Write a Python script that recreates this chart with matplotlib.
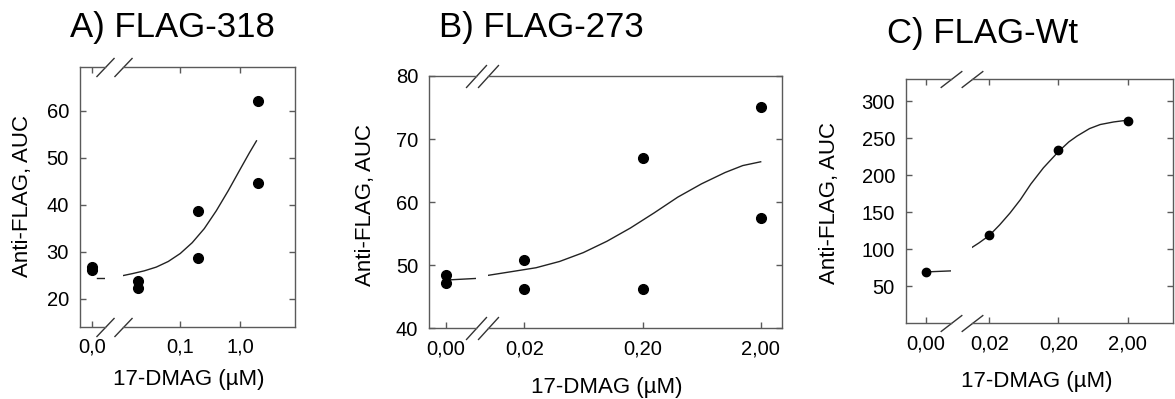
import matplotlib
matplotlib.use('Agg')
import matplotlib.pyplot as plt
from matplotlib.ticker import NullLocator

plt.rcParams['font.family'] = ['Liberation Sans', 'DejaVu Sans']

W, H = 1175, 399

# ---- values ----
titles = ['A) FLAG-318', 'B) FLAG-273', 'C) FLAG-Wt']
xlabel = '17-DMAG (µM)'
ylabel = 'Anti-FLAG, AUC'

# A) FLAG-318
conc_A = [0, 0, 0.02, 0.02, 0.2, 0.2, 2, 2]
auc_A = [26.8, 26.0, 23.8, 22.3, 38.7, 28.7, 62.0, 44.7]
fit_A_x = [0.0112, 0.0158, 0.0251, 0.0398, 0.0631, 0.1, 0.158, 0.251,
           0.398, 0.631, 1.0, 1.41, 1.86]
fit_A_y = [24.9, 25.3, 25.9, 26.7, 27.9, 29.6, 31.9, 34.9,
           38.7, 43.0, 47.6, 51.0, 53.6]
fit0_A_y = [24.3, 24.3]
yticks_A = [20, 30, 40, 50, 60]
xticks_A = [0.1, 1.0]
xticklabels_A = ['0,1', '1,0']
zerolabel_A = '0,0'

# B) FLAG-273
conc_B = [0, 0, 0.02, 0.02, 0.2, 0.2, 2, 2]
auc_B = [48.5, 47.2, 50.9, 46.3, 67.0, 46.3, 75.1, 57.5]
fit_B_x = [0.0099, 0.0158, 0.0251, 0.0398, 0.0631, 0.1, 0.158, 0.251,
           0.398, 0.631, 1.0, 1.41, 2.0]
fit_B_y = [48.4, 49.0, 49.6, 50.6, 52.0, 53.8, 55.9, 58.3,
           60.8, 62.9, 64.7, 65.8, 66.4]
fit0_B_y = [47.65, 47.9]
yticks_B = [40, 50, 60, 70, 80]
xticks_B = [0.02, 0.2, 2.0]
xticklabels_B = ['0,02', '0,20', '2,00']
zerolabel_B = '0,00'

# C) FLAG-Wt
conc_C = [0, 0.02, 0.2, 2]
auc_C = [69.4, 118.7, 234.0, 273.0]
fit_C_x = [0.0105, 0.0141, 0.02, 0.0282, 0.0398, 0.0562, 0.0696, 0.0794,
           0.121, 0.2, 0.282, 0.372, 0.562, 0.803, 1.26, 2.0]
fit_C_y = [100.8, 108.5, 118.7, 133.0, 149.0, 167.0, 180.0, 188.0,
           210.0, 232.0, 245.0, 253.0, 263.0, 268.5, 272.0, 274.4]
fit0_C_y = [69.4, 70.8]
yticks_C = [50, 100, 150, 200, 250, 300]
xticks_C = [0.02, 0.2, 2.0]
xticklabels_C = ['0,02', '0,20', '2,00']
zerolabel_C = '0,00'

SPINE = '#5a5a5a'


def rect(l, r, t, b):
    return [l / W, 1 - b / H, (r - l) / W, (b - t) / H]


def draw_panel(fig, lay, conc, auc, fit_x, fit_y, fit0_y, yticks, xticks,
               xticklabels, zerolabel, title, ms):
    l0, r0 = lay['left']
    l1, r1 = lay['right']
    t, b = lay['top'], lay['bottom']
    ax0 = fig.add_axes(rect(l0, r0, t, b))
    ax1 = fig.add_axes(rect(l1, r1, t, b), sharey=ax0)

    # zero section (linear) and dose section (log)
    z = lay['zero_px']
    ax0.set_xlim(-(z - l0) / (r0 - z), 1)
    ax1.set_xscale('log')
    ax1.set_xlim(*lay['xlim'])
    ax0.set_ylim(*lay['ylim'])

    zx = [c for c in conc if c == 0]
    zy = [a for c, a in zip(conc, auc) if c == 0]
    dx = [c for c in conc if c > 0]
    dy = [a for c, a in zip(conc, auc) if c > 0]
    ax0.plot(zx, zy, 'o', color='black', ms=ms, clip_on=False, zorder=3)
    ax1.plot(dx, dy, 'o', color='black', ms=ms, clip_on=False, zorder=3)
    ax0.plot([lay['fit0_start'], 1.0], fit0_y, color='#222222', lw=1.0)
    ax1.plot(fit_x, fit_y, color='#222222', lw=1.0)

    ax0.spines['right'].set_visible(False)
    ax1.spines['left'].set_visible(False)
    for ax in (ax0, ax1):
        for s in ax.spines.values():
            s.set_color(SPINE)
            s.set_linewidth(1.0)
        ax.tick_params(direction='in', length=4, width=1, color=SPINE,
                       labelsize=14.5, pad=8, top=lay['top_ticks'])
    ax0.tick_params(axis='y', left=True, right=False)
    ax1.tick_params(axis='y', left=False, right=True, labelleft=False)
    ax0.set_yticks(yticks)
    ax0.set_xticks([0])
    ax0.set_xticklabels([zerolabel])
    ax1.set_xticks(xticks)
    ax1.set_xticklabels(xticklabels)
    ax1.xaxis.set_minor_locator(NullLocator())

    # break marks
    sx, sy, sms = lay['slash']
    mk = [(-sx, -sy), (sx, sy)]
    for ax, xe in ((ax0, 1), (ax1, 0)):
        ax.plot([xe, xe], [0, 1], transform=ax.transAxes, ls='none',
                marker=mk, ms=sms, mew=1.0, mec='#333333', clip_on=False)

    tx, tb = lay['title']
    fig.text(tx / W, 1 - tb / H, title, fontsize=25, ha='left', va='baseline')
    yx, yy = lay['ylabel']
    fig.text(yx / W, 1 - yy / H, ylabel, fontsize=16, rotation=90,
             ha='center', va='center')
    xx, xy = lay['xlabel']
    fig.text(xx / W, 1 - xy / H, xlabel, fontsize=16, ha='center', va='center')


fig = plt.figure(figsize=(W / 100, H / 100), dpi=100)

lay_A = dict(left=(80, 104.5), right=(122.5, 295), top=66.7, bottom=326.7,
             zero_px=92.3, xlim=(0.0109, 8.15), ylim=(14, 69.4),
             fit0_start=0.36, top_ticks=True, slash=(0.95, 1, 13.7),
             title=(70, 36.7), ylabel=(23, 196), xlabel=(189, 380))
lay_B = dict(left=(429.3, 475.5), right=(488, 782), top=76, bottom=328.3,
             zero_px=446, xlim=(0.00985, 3.03), ylim=(40, 80),
             fit0_start=0.0, top_ticks=False, slash=(0.91, 1, 16.5),
             title=(439, 37.3), ylabel=(365, 205), xlabel=(607, 388))
lay_C = dict(left=(906, 951), right=(971.7, 1172.7), top=79, bottom=323.3,
             zero_px=926, xlim=(0.0111, 8.98), ylim=(0, 330),
             fit0_start=0.0, top_ticks=True, slash=(1, 0.77, 15.6),
             title=(887, 42.7), ylabel=(830, 203), xlabel=(1037, 382))

draw_panel(fig, lay_A, conc_A, auc_A, fit_A_x, fit_A_y, fit0_A_y, yticks_A,
           xticks_A, xticklabels_A, zerolabel_A, titles[0], 7)
draw_panel(fig, lay_B, conc_B, auc_B, fit_B_x, fit_B_y, fit0_B_y, yticks_B,
           xticks_B, xticklabels_B, zerolabel_B, titles[1], 7)
draw_panel(fig, lay_C, conc_C, auc_C, fit_C_x, fit_C_y, fit0_C_y, yticks_C,
           xticks_C, xticklabels_C, zerolabel_C, titles[2], 6)

fig.savefig('out.png', dpi=100)
